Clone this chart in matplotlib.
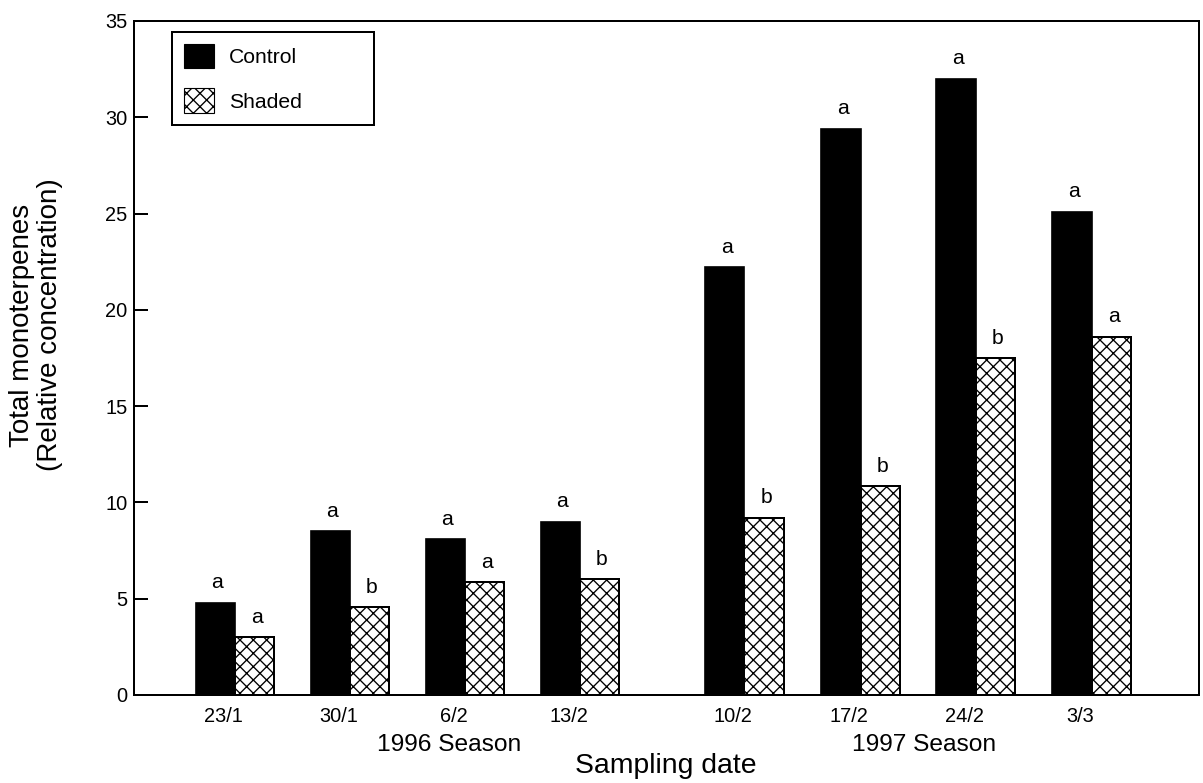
import matplotlib
matplotlib.use("Agg")
import matplotlib.pyplot as plt
from matplotlib.patches import Patch

plt.rcParams['font.family'] = ['Liberation Sans', 'DejaVu Sans']
plt.rcParams['hatch.linewidth'] = 1.2

dates = ["23/1", "30/1", "6/2", "13/2", "10/2", "17/2", "24/2", "3/3"]
positions = [1, 2, 3, 4, 5.43, 6.44, 7.44, 8.45]
control = [4.8, 8.5, 8.1, 9.0, 22.2, 29.4, 32.0, 25.1]
shaded = [3.0, 4.55, 5.85, 6.0, 9.2, 10.85, 17.5, 18.6]
control_sig = ["a", "a", "a", "a", "a", "a", "a", "a"]
shaded_sig = ["a", "b", "a", "b", "b", "b", "b", "a"]

dpi = 80
fig = plt.figure(figsize=(1203 / dpi, 783 / dpi), dpi=dpi)
ax = fig.add_axes([134 / 1203, 88 / 783, 1065 / 1203, 674 / 783])

w = 0.343
ctrl = ax.bar([p - w / 2 for p in positions], control, width=w,
              color="black", edgecolor="black", linewidth=1.5, label="Control")
shd = ax.bar([p + w / 2 for p in positions], shaded, width=w,
             color="white", edgecolor="black", linewidth=1.8, hatch="xx", label="Shaded")

# significance letters above bars
for bars, sig in [(ctrl, control_sig), (shd, shaded_sig)]:
    for b, s in zip(bars, sig):
        ax.annotate(s, (b.get_x() + b.get_width() / 2, b.get_height()),
                    xytext=(2, 13), textcoords="offset points",
                    ha="center", va="baseline", fontsize=19)

ax.set_xlim(0.122, 9.383)
ax.set_ylim(0, 35)
ax.set_yticks(range(0, 36, 5))
ax.set_xticks([p - 0.1 for p in positions])
ax.set_xticklabels(dates)
ax.tick_params(axis="y", direction="in", length=13, width=1.8, labelsize=18, pad=6)
ax.tick_params(axis="x", length=0, labelsize=18, pad=11)
for sp in ax.spines.values():
    sp.set_linewidth(1.8)

leg = ax.legend(handles=[Patch(facecolor="black", edgecolor="black", label="Control"),
                         Patch(facecolor="white", edgecolor="black", hatch="xx", label="Shaded")],
                loc="upper left", bbox_to_anchor=(0.0357, 0.5, 0.19, 0.4837), mode="expand",
                borderaxespad=0, fontsize=19, handlelength=1.43, handleheight=1.43,
                labelspacing=0.95, handletextpad=0.71, borderpad=0.55,
                fancybox=False, framealpha=1, edgecolor="black")
leg.get_frame().set_linewidth(1.8)

fig.text(449 / 1203, 1 - 745 / 783, "1996 Season", ha="center", va="center", fontsize=22)
fig.text(924 / 1203, 1 - 745 / 783, "1997 Season", ha="center", va="center", fontsize=22)
fig.text(666 / 1203, 1 - 766 / 783, "Sampling date", ha="center", va="center", fontsize=25.5)
fig.text(36 / 1203, 1 - 325 / 783, "Total monoterpenes\n(Relative concentration)",
         ha="center", va="center", rotation=90, fontsize=25, multialignment="center",
         linespacing=1.1)

fig.savefig("out.png", dpi=dpi)
